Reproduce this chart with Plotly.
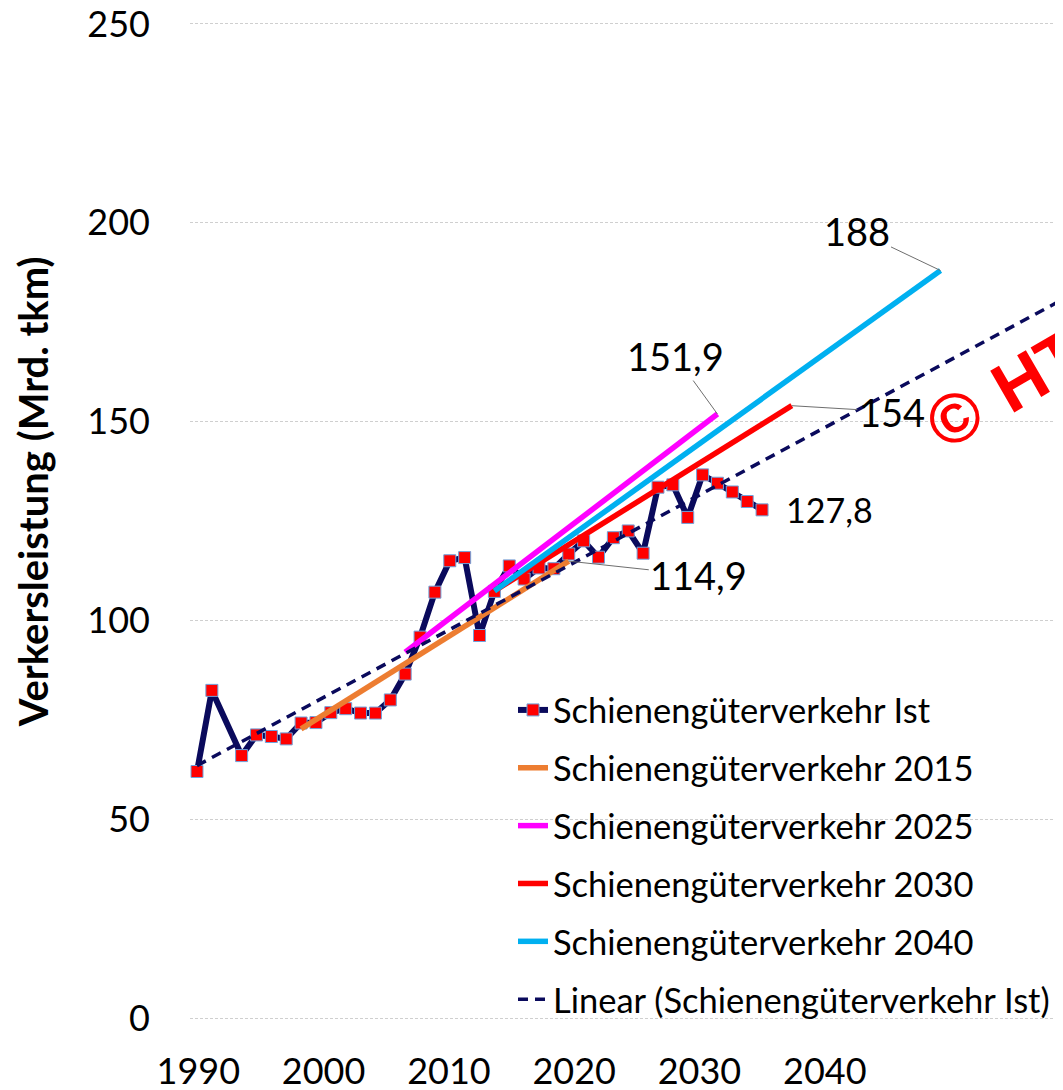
import numpy as np
import plotly.graph_objects as go

# ---------------- data ----------------
ist_years = [1990, 1991, 1993, 1994, 1995, 1996, 1997, 1998, 1999, 2000,
             2001, 2002, 2003, 2004, 2005, 2006, 2007, 2008, 2009, 2010,
             2011, 2012, 2013, 2014, 2015, 2016, 2017, 2018, 2019, 2020,
             2021, 2022, 2023, 2024, 2025, 2026, 2027, 2028]
ist_values = [62.0, 82.4, 66.0, 71.2, 70.8, 70.2, 74.2, 74.3, 76.8, 77.8,
              76.7, 76.7, 80.0, 86.5, 95.8, 107.1, 115.0, 115.8, 96.2, 107.3,
              113.7, 110.4, 113.2, 113.0, 116.7, 120.0, 115.9, 120.8, 122.5, 116.9,
              133.5, 134.1, 125.9, 136.6, 134.5, 132.3, 129.9, 127.8]

p2015_years = [1997, 2006, 2015]
p2015_values = [72.7, 93.6, 114.9]
p2025_years = [2004, 2015, 2025]
p2025_values = [92.0, 123.6, 151.9]
p2030_years = [2010, 2020, 2030]
p2030_values = [107.4, 130.7, 154.0]
p2040_years = [2010, 2020, 2030, 2040]
p2040_values = [107.4, 134.4, 161.3, 188.0]

trend_years = [1990, 2060]

x_tick_labels = [1990, 2000, 2010, 2020, 2030, 2040]
y_ticks = [0, 50, 100, 150, 200, 250]

series_names = ["Schienengüterverkehr Ist", "Schienengüterverkehr 2015",
                "Schienengüterverkehr 2025", "Schienengüterverkehr 2030",
                "Schienengüterverkehr 2040", "Linear (Schienengüterverkehr Ist)"]
y_title = "Verkersleistung (Mrd. tkm)"
watermark_symbol = "©"
watermark_text = "HT"

# ---------------- style / layout ----------------
FONT = "Lato, 'Open Sans', sans-serif"
OFF = 8                      # page body margin
W, H = 1055, 1082            # figure ends exactly at the window edge
# target positions in page pixels
PL, PR, PT, PB = 190, 1063, 20, 1022
Y_RANGE = [-1, 251]
data_px_per_year = 14.87
label_px_per_year = 12.53
first_data_px = 197
first_label_px = 198.3

x_range = [1990 - (first_data_px - PL) / data_px_per_year,
           1990 + (PR - first_data_px) / data_px_per_year]
# tick labels sit on their own (evenly spaced) scale, converted to the data axis
tick_positions = [first_label_px + (t - 1990) * label_px_per_year for t in x_tick_labels]
tick_vals = [1990 + (p - first_data_px) / data_px_per_year for p in tick_positions]


def fmt(v):
    return str(int(round(v))) if abs(v - round(v)) < 1e-9 else f"{v:.1f}".replace(".", ",")


def px_to_paper(px, py):
    return (px - PL) / (PR - PL), (PB - py) / (PB - PT)


coef = np.polyfit(ist_years, ist_values, 1)
trend_values = list(np.polyval(coef, trend_years))

fig = go.Figure()
fig.add_trace(go.Scatter(
    x=ist_years, y=ist_values, name=series_names[0], mode="lines+markers",
    line=dict(color="#0a0a5c", width=6),
    marker=dict(symbol="square", size=12, color="#ff0000",
                line=dict(color="#6fa3dc", width=1))))
fig.add_trace(go.Scatter(x=p2015_years, y=p2015_values, name=series_names[1],
                         mode="lines", line=dict(color="#ed7d31", width=5.5)))
fig.add_trace(go.Scatter(x=p2025_years, y=p2025_values, name=series_names[2],
                         mode="lines", line=dict(color="#ff00ff", width=5.5)))
fig.add_trace(go.Scatter(x=p2030_years, y=p2030_values, name=series_names[3],
                         mode="lines", line=dict(color="#ff0000", width=5.5)))
fig.add_trace(go.Scatter(x=p2040_years, y=p2040_values, name=series_names[4],
                         mode="lines", line=dict(color="#00b0f0", width=5.5)))
fig.add_trace(go.Scatter(x=trend_years, y=trend_values, name=series_names[5],
                         mode="lines",
                         line=dict(color="#0a0a5c", width=3.5, dash="10px,7px")))

annotations = []
leader = dict(showarrow=True, arrowhead=0, arrowwidth=1, arrowcolor="#6e6e6e",
              standoff=0, xanchor="center", yanchor="middle",
              font=dict(family=FONT, size=38, color="#000000"))
label_specs = [
    (p2015_years[-1], p2015_values[-1], 130, 14),
    (p2025_years[-1], p2025_values[-1], -42, -58),
    (p2030_years[-1], p2030_values[-1], 100, 6),
    (p2040_years[-1], p2040_values[-1], -84, -40),
]
for x, y, ax, ay in label_specs:
    annotations.append(dict(x=x, y=y, xref="x", yref="y", text=fmt(y),
                            ax=ax, ay=ay, **leader))
annotations.append(dict(x=ist_years[-1], y=ist_values[-1], xref="x", yref="y",
                        text=fmt(ist_values[-1]), showarrow=False,
                        xanchor="left", yanchor="middle", xshift=22,
                        font=dict(family=FONT, size=34, color="#000000")))
tx, ty = px_to_paper(32.5, 491.7)
annotations.append(dict(x=tx, y=ty, xref="paper", yref="paper",
                        text="<b>" + y_title + "</b>", textangle=-90,
                        showarrow=False, xanchor="center", yanchor="middle",
                        font=dict(family=FONT, size=40, color="#000000")))
wm_font = dict(family="'Liberation Sans', Arial, sans-serif", size=70, color="#ff0000")
cx, cy = px_to_paper(955, 418)
annotations.append(dict(x=cx, y=cy, xref="paper", yref="paper",
                        text="<b>" + watermark_symbol + "</b>", textangle=-30,
                        showarrow=False, xanchor="center", yanchor="middle",
                        font=wm_font))
hx, hy = px_to_paper(1038, 371)
annotations.append(dict(x=hx, y=hy, xref="paper", yref="paper",
                        text="<b>" + watermark_text + "</b>", textangle=-30,
                        showarrow=False, xanchor="center", yanchor="middle",
                        font=wm_font))

lx, ly = px_to_paper(513, 681)
fig.update_layout(
    width=W, height=H,
    margin=dict(l=PL - OFF, r=W - (PR - OFF), t=PT - OFF, b=H - (PB - OFF),
                autoexpand=False),
    paper_bgcolor="#ffffff", plot_bgcolor="#ffffff",
    font=dict(family=FONT, color="#000000"),
    showlegend=True,
    legend=dict(x=lx, y=ly, xanchor="left", yanchor="top",
                font=dict(family=FONT, size=34.5, color="#000000"),
                bgcolor="rgba(0,0,0,0)", tracegroupgap=10,
                traceorder="grouped"),
    xaxis=dict(range=x_range, tickmode="array", tickvals=tick_vals,
               ticktext=[str(t) for t in x_tick_labels],
               showgrid=False, zeroline=False, showline=False, ticks="",
               automargin=False,
               ticklabelstandoff=25, ticklabeloverflow="allow",
               tickfont=dict(family=FONT, size=36, color="#000000")),
    yaxis=dict(range=Y_RANGE, tickmode="array", tickvals=y_ticks,
               showgrid=True, gridcolor="#cfcfcf", griddash="3px,2px",
               gridwidth=1, zeroline=False, showline=False, ticks="",
               automargin=False,
               ticklabelstandoff=39, ticklabeloverflow="allow",
               tickfont=dict(family=FONT, size=36, color="#000000")),
    annotations=annotations,
)
for i, tr in enumerate(fig.data):
    tr.legendgroup = f"g{i}"

fig.write_html("out.html")
